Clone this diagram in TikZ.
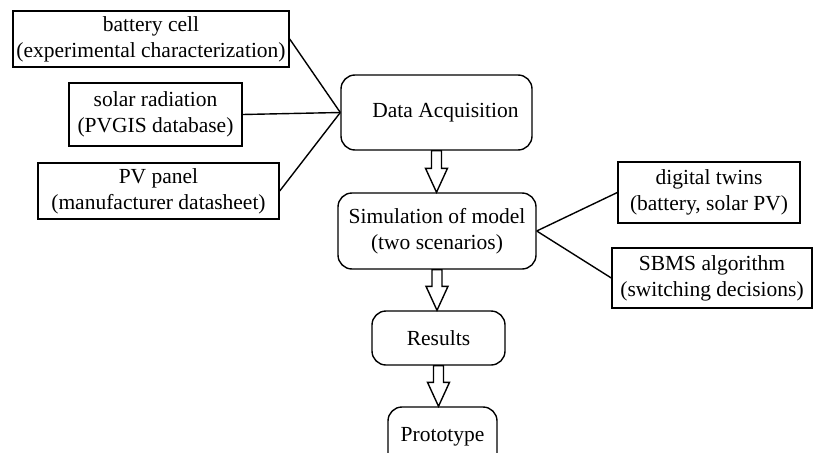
\documentclass[tikz,border=0pt]{standalone}
\usepackage{fontspec}
\setmainfont{Liberation Serif}
\usetikzlibrary{calc}
\newcommand{\hollowarrow}[2]{%
\coordinate (tip) at (#1.south |- #2.north);
\draw [fill=white] ($(#1.south)+(-5,0)$) -- ($(tip)+(-5,-24)$) -- ($(tip)+(-11,-24)$) -- (tip) -- ($(tip)+(11,-24)$) -- ($(tip)+(5,-24)$) -- ($(#1.south)+(5,0)$) -- cycle;}
\begin{document}
\begin{tikzpicture}[x=1pt,y=-1pt,line width=1.4pt,
  every node/.style={font=\fontsize{21.5}{26}\selectfont,align=center,inner sep=0pt},
  source/.style={draw,minimum height=56pt},
  stage/.style={draw,rounded corners=14pt}]
\clip (0,0) rectangle (813,452);
\node [source,minimum width=276pt] (cell) at (151,39) {battery cell\\(experimental characterization)};
\node [source,minimum width=173pt,minimum height=63pt] (radiation) at (155.5,114.5) {solar radiation\\(PVGIS database)};
\node [source,minimum width=241pt] (panel) at (158.5,191) {PV panel\\(manufacturer datasheet)};
\node [stage,minimum width=191pt,minimum height=75pt] (acq) at (436.5,112.5) {\hspace*{18pt}Data Acquisition};
\node [stage,minimum width=198pt,minimum height=76pt] (sim) at (437,231) {Simulation of model\\(two scenarios)};
\node [stage,minimum width=133pt,minimum height=54pt] (results) at (438.5,338) {Results};
\node [stage,minimum width=109pt,minimum height=60pt] (proto) at (442.5,437) {Prototype};
\node [source,minimum width=182pt,minimum height=61pt] (twins) at (709,192.5) {digital twins\\(battery, solar PV)};
\node [source,minimum width=200pt,minimum height=60pt] (sbms) at (712,278) {SBMS algorithm\\(switching decisions)};
\draw (cell.east) -- (acq.west);
\draw (radiation.east) -- (acq.west);
\draw (panel.east) -- (acq.west);
\draw (sim.east) -- (twins.west);
\draw (sim.east) -- (sbms.west);
\hollowarrow{acq}{sim}
\hollowarrow{sim}{results}
\hollowarrow{results}{proto}
\end{tikzpicture}
\end{document}
